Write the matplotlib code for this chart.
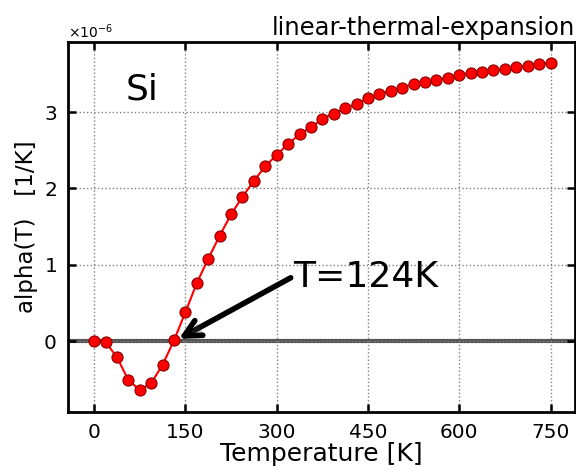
import numpy as np
import matplotlib.pyplot as plt
import matplotlib.patheffects as pe
from matplotlib.ticker import ScalarFormatter

temp = [0, 18.75, 37.5, 56.25, 75, 93.75, 112.5, 131.25, 150, 168.75,
        187.5, 206.25, 225, 243.75, 262.5, 281.25, 300, 318.75, 337.5, 356.25,
        375, 393.75, 412.5, 431.25, 450, 468.75, 487.5, 506.25, 525, 543.75,
        562.5, 581.25, 600, 618.75, 637.5, 656.25, 675, 693.75, 712.5, 731.25,
        750]
alpha = [0.0, -0.01, -0.21, -0.51, -0.64, -0.55, -0.31, 0.01, 0.38, 0.76,
         1.08, 1.38, 1.66, 1.89, 2.10, 2.29, 2.44, 2.58, 2.71, 2.80,
         2.91, 2.98, 3.05, 3.11, 3.18, 3.24, 3.28, 3.32, 3.37, 3.40,
         3.42, 3.45, 3.49, 3.51, 3.52, 3.55, 3.56, 3.59, 3.61, 3.63,
         3.64]

temp = np.array(temp)
alpha = np.array(alpha) * 1e-6

fig = plt.figure(figsize=(5.76, 4.70), dpi=100)
ax = fig.add_axes([0.118, 0.123, 0.880, 0.788])

ax.axhline(0, color='#555555', lw=3, zorder=1)
ax.plot(temp, alpha, '-o', color='red', lw=1.5, ms=8,
        mfc='red', mec='#880000', mew=0.8, zorder=3)

ax.set_xlim(-43, 790)
ax.set_ylim(-0.93e-6, 3.92e-6)
ax.set_xticks([0, 150, 300, 450, 600, 750])
ax.set_yticks(np.array([0, 1, 2, 3]) * 1e-6)
fmt = ScalarFormatter(useMathText=True)
ax.yaxis.set_major_formatter(fmt)

ax.grid(True, ls=':', color='gray', lw=1)
ax.tick_params(direction='in', length=6, width=1.8, labelsize=14.5,
               top=True, right=True, pad=8)
for s in ax.spines.values():
    s.set_linewidth(2)
ax.yaxis.get_offset_text().set_fontsize(10)

ax.set_xlabel('Temperature [K]', fontsize=18, labelpad=0)
ax.set_ylabel('alpha(T)   [1/K]', fontsize=16.5, labelpad=4)
ax.set_title('linear-thermal-expansion', fontsize=17.5, loc='right', pad=5)

ax.text(52, 3.16e-6, 'Si', fontsize=26)

ax.text(327, 0.71e-6, 'T=124K', fontsize=26, va='baseline')
ax.annotate('', xy=(139, 0.03e-6), xytext=(323, 0.83e-6),
            arrowprops=dict(arrowstyle='->', color='black', lw=4,
                            mutation_scale=30, shrinkA=0, shrinkB=0,
                            path_effects=[pe.SimplePatchShadow(offset=(2, -2)),
                                          pe.Normal()]))

fig.savefig('out.png', dpi=100)
